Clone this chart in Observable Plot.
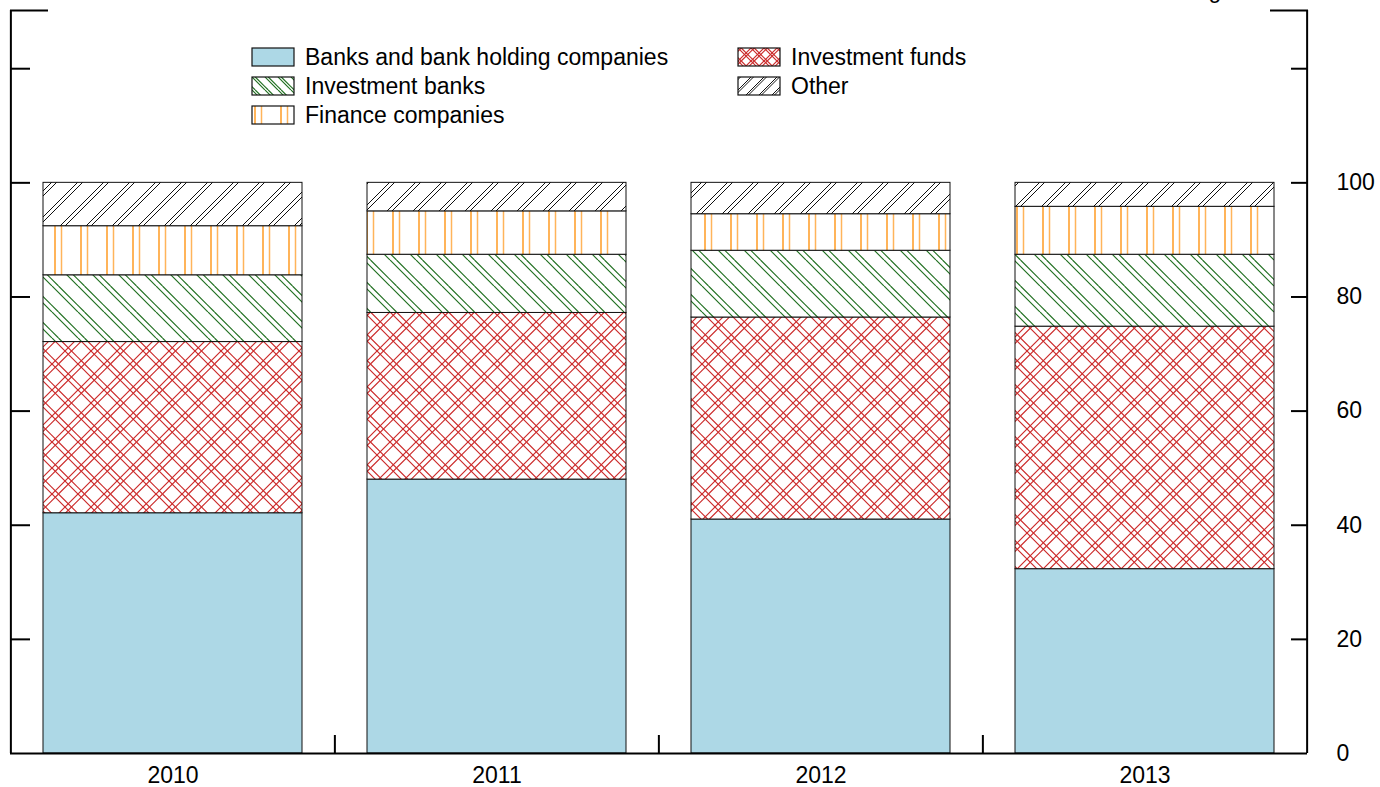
<!DOCTYPE html>
<html><head><meta charset="utf-8">
<script src="https://cdn.jsdelivr.net/npm/d3@7"></script>
<script src="https://cdn.jsdelivr.net/npm/@observablehq/plot@0.6"></script>
<style>
html,body{margin:0;padding:0;background:#fff;}
#wrap{position:relative;width:1380px;height:787px;overflow:hidden;font-family:"Liberation Sans",Arial,sans-serif;}
#wrap svg{display:block;}
#overlay{position:absolute;left:0;top:0;overflow:visible;}
</style></head><body>
<svg id="defs" width="0" height="0" style="position:absolute;left:0;top:0"><defs id="defsInner"></defs></svg>
<div id="wrap"></div>
<script>
// ---- data ----
const years = ["2010", "2011", "2012", "2013"];
const series = ["Banks and bank holding companies", "Investment funds", "Investment banks", "Finance companies", "Other"];
const banks = [42.1, 48.0, 41.0, 32.3];
const investmentFunds = [30.0, 29.2, 35.4, 42.5];
const investmentBanks = [11.7, 10.2, 11.7, 12.6];
const financeCompanies = [8.6, 7.6, 6.4, 8.4];
const other = [7.6, 5.0, 5.5, 4.2];
const yTicks = [0, 20, 40, 60, 80, 100];
const yInnerTicks = [20, 40, 60, 80, 100, 120];
const yTop = 130.2;
const axisNote = "Percentage";

// ---- patterns ----
function diagPath(dir, offsets, P) {
  let d = "";
  for (const o of offsets) {
    for (const k of [-1, 0, 1, 2]) {
      const c = o + k * P;
      if (dir === "/") d += `M${c},0L${c - P},${P}`;
      else d += `M${c},0L${c + P},${P}`;
    }
  }
  return d;
}
const defs = d3.select("#defsInner");
function makePattern(id, P, draw) {
  const p = defs.append("pattern").attr("id", id).attr("patternUnits", "userSpaceOnUse")
    .attr("width", P).attr("height", P);
  p.append("rect").attr("width", P).attr("height", P).attr("fill", "#fff");
  draw(p, P);
}
function buildSet(suffix, P, sw) {
  const s = P / 26;
  makePattern("p-other" + suffix, P, (p, P) => p.append("path").attr("d", diagPath("/", [0, 5 * s], P)).attr("stroke", "#111").attr("stroke-width", sw).attr("fill", "none"));
  makePattern("p-ib" + suffix, P, (p, P) => p.append("path").attr("d", diagPath("\\", [0, 6.5 * s], P)).attr("stroke", "#217021").attr("stroke-width", sw * 1.2).attr("fill", "none"));
  makePattern("p-if" + suffix, P, (p, P) => {
    p.append("path").attr("d", diagPath("/", [0, 6.5 * s], P)).attr("stroke", "#cc2a2a").attr("stroke-width", sw * 1.2).attr("fill", "none");
    p.append("path").attr("d", diagPath("\\", [0, 6.5 * s], P)).attr("stroke", "#cc2a2a").attr("stroke-width", sw * 1.2).attr("fill", "none");
  });
}
buildSet("", 26, 1);
buildSet("-lg", 13, 1);
makePattern("p-fin", 26, (p, P) => {
  p.append("line").attr("x1", 3).attr("x2", 3).attr("y1", 0).attr("y2", P).attr("stroke", "#ff8c00").attr("stroke-width", 1.3);
  p.append("line").attr("x1", 9.5).attr("x2", 9.5).attr("y1", 0).attr("y2", P).attr("stroke", "#ffb45a").attr("stroke-width", 1.5);
});
const fills = ["#add8e6", "url(#p-if)", "url(#p-ib)", "url(#p-fin)", "url(#p-other)"];
const legendFills = ["#add8e6", "url(#p-if-lg)", "url(#p-ib-lg)", "url(#p-fin)", "url(#p-other-lg)"];

// ---- table ----
const seriesValues = [banks, investmentFunds, investmentBanks, financeCompanies, other];
const data = years.flatMap((yr, i) => series.map((s, j) => ({year: yr, series: s, value: seriesValues[j][i]})));

const W = 1380, H = 787, mL = 10, mR = 73, mT = 10, mB = 34;
const padIn = 0.2, padOut = 0.1;
const step = (W - mL - mR) / (years.length - padIn + 2 * padOut);
const tickPx = 18;
const tickLen = tickPx * yTop / (H - mT - mB);
const lw = 2;

const chart = Plot.plot({
  width: W, height: H,
  marginLeft: mL, marginRight: mR, marginTop: mT, marginBottom: mB,
  style: {fontFamily: '"Liberation Sans", Arial, sans-serif', fontSize: "23px", color: "#000", background: "#fff"},
  x: {domain: years, paddingInner: padIn, paddingOuter: padOut},
  y: {domain: [0, yTop]},
  color: {type: "ordinal", domain: series, range: fills},
  marks: [
    Plot.barY(data, {x: "year", y: "value", fill: "series", stroke: "#111", strokeWidth: 1}),
    Plot.ruleY([0], {stroke: "#000", strokeWidth: lw}),
    Plot.ruleX([years[0]], {x: d => d, dx: -step / 2, y1: 0, y2: yTop, stroke: "#000", strokeWidth: lw}),
    Plot.ruleX([years[years.length - 1]], {x: d => d, dx: step / 2, y1: 0, y2: yTop, stroke: "#000", strokeWidth: lw}),
    Plot.axisY(yInnerTicks, {anchor: "left", tickSize: -20, tickFormat: () => "", label: null, strokeWidth: lw}),
    Plot.axisY([yTop], {anchor: "left", tickSize: -38, tickFormat: () => "", label: null, strokeWidth: lw}),
    Plot.axisY(yInnerTicks, {anchor: "right", tickSize: -17, tickFormat: () => "", label: null, strokeWidth: lw}),
    Plot.axisY([yTop], {anchor: "right", tickSize: -38, tickFormat: () => "", label: null, strokeWidth: lw}),
    Plot.axisY(yTicks, {anchor: "right", tickSize: 0, tickPadding: 29, label: null}),
    Plot.axisX({tickSize: 0, tickPadding: 13, label: null}),
    Plot.ruleX(years.slice(1), {x: d => d, dx: -step / 2, y1: 0, y2: tickLen, stroke: "#000", strokeWidth: lw})
  ]
});
document.getElementById("wrap").appendChild(chart);

// ---- legend overlay ----
const legendItems = [
  {label: series[0], fill: legendFills[0], col: 0, row: 0},
  {label: series[1], fill: legendFills[1], col: 1, row: 0},
  {label: series[2], fill: legendFills[2], col: 0, row: 1},
  {label: series[4], fill: legendFills[4], col: 1, row: 1},
  {label: series[3], fill: legendFills[3], col: 0, row: 2}
];
const colX = [252, 738], rowY = [48, 77, 106];
const ov = d3.select("#wrap").append("svg").attr("id", "overlay").attr("width", W).attr("height", H)
  .style("font-family", '"Liberation Sans", Arial, sans-serif').style("font-size", "23px");
const g = ov.selectAll("g.item").data(legendItems).join("g").attr("class", "item")
  .attr("transform", d => `translate(${colX[d.col]},${rowY[d.row]})`);
g.append("rect").attr("width", 42).attr("height", 18).attr("fill", d => d.fill).attr("stroke", "#111").attr("stroke-width", 1.2);
g.append("text").attr("x", 53).attr("y", 9).attr("dy", "0.35em").attr("fill", "#000").text(d => d.label);
ov.append("text").attr("x", 1234).attr("y", -2).attr("text-anchor", "end").attr("fill", "#000").text(axisNote);
</script>
</body></html>
